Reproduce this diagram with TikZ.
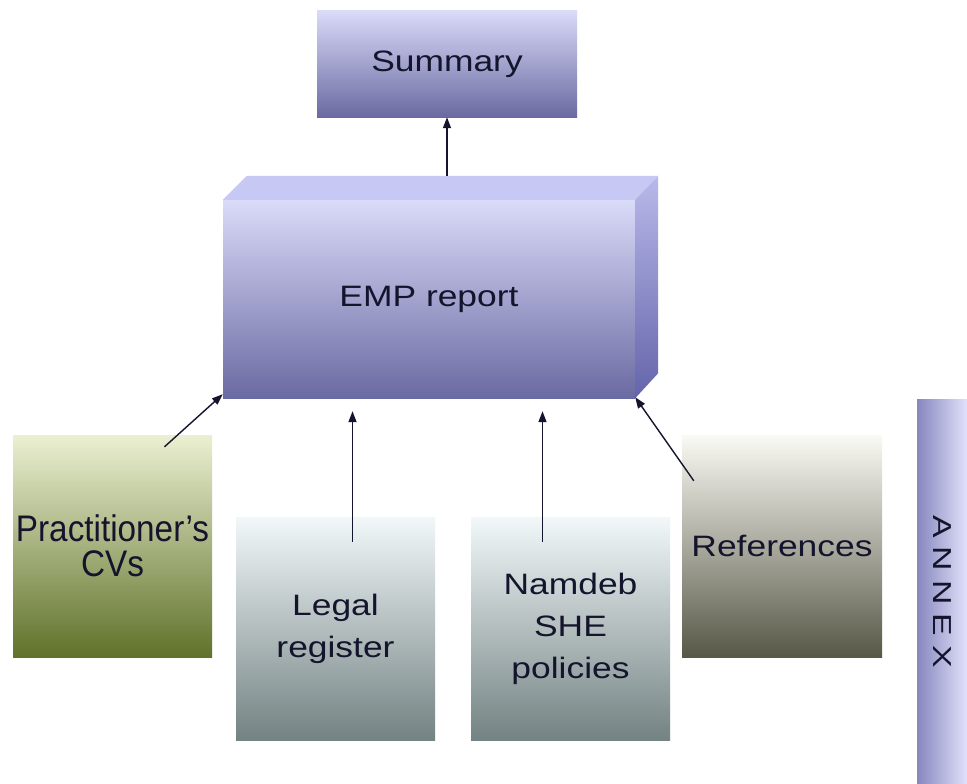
\documentclass[tikz,border=0pt]{standalone}
\usepackage{fontspec}
\setmainfont{Liberation Sans}[FakeStretch=1.2]
\newfontfamily\tallfont{Liberation Sans}[FakeStretch=0.9]
\newfontfamily\annexfont{Liberation Sans}[FakeStretch=1.3]
\usepackage{tikz}
\usetikzlibrary{positioning,arrows.meta,calc}
\usepackage{xcolor}
\definecolor{textdark}{HTML}{14142D}
\definecolor{lavtop}{HTML}{DADAF9}
\definecolor{lavbot}{HTML}{6A6AA2}
\definecolor{lavface}{HTML}{C8C8F4}
\definecolor{lavside}{HTML}{B9B9EA}
\definecolor{lavdeep}{HTML}{6464AA}
\definecolor{olivetop}{HTML}{EBF0D2}
\definecolor{olivebot}{HTML}{60722A}
\definecolor{slatetop}{HTML}{F2F8FA}
\definecolor{slatebot}{HTML}{738282}
\definecolor{stonetop}{HTML}{FAFAF4}
\definecolor{stonebot}{HTML}{585848}
\definecolor{annexleft}{HTML}{8787BE}
\definecolor{annexright}{HTML}{E1E1FA}

\begin{document}
\begin{tikzpicture}[x=1pt, y=-1pt,
    block/.style={inner sep=0pt, align=center, text=textdark, font=\fontsize{29.5}{42}\selectfont},
    arrow/.style={-{Triangle[length=11pt,width=8pt]}, line width=1.4pt, draw=textdark},
]
\useasboundingbox[fill=white] (0,0) rectangle (967,784);

% Top: summary
\node[block, top color=lavtop, bottom color=lavbot, minimum width=260, minimum height=106] (summary) at (447,64) {Summary};

% Middle: EMP report block (front face + top + side)
\node[block, top color=lavtop, bottom color=lavbot, minimum width=412, minimum height=198] (emp) at (429,299) {EMP report};
\fill[lavface] (emp.north west) -- ([shift={(24,-24)}]emp.north west) -- ([shift={(23,-24)}]emp.north east) -- (emp.north east) -- cycle;
\shade[top color=lavside, bottom color=lavdeep] (emp.north east) -- ([shift={(23,-24)}]emp.north east) -- ([shift={(23,-25)}]emp.south east) -- (emp.south east) -- cycle;
\coordinate (empback) at ([shift={(24,-24)}]emp.north west);

% Bottom row: inputs
\node[block, top color=olivetop, bottom color=olivebot, minimum width=199, minimum height=222,
      font=\tallfont\fontsize{37}{35}\selectfont] (cvs) at (112.5,546) {Practitioner’s\\CVs};
\node[block, top color=slatetop, bottom color=slatebot, minimum width=199, minimum height=223] (legal) at (335.5,628.5) {Legal\\register};
\node[block, top color=slatetop, bottom color=slatebot, minimum width=199, minimum height=223] (policies) at (570.5,628.5) {Namdeb\\SHE\\policies};
\node[block, top color=stonetop, bottom color=stonebot, minimum width=200, minimum height=222] (refs) at (782,546) {References};

% Annex bar
\node[block, left color=annexleft, right color=annexright, minimum width=50, minimum height=385] (annex) at (942,591.5)
    {\rotatebox{-90}{\annexfont\fontsize{26}{26}\selectfont A\hspace{9pt}N\hspace{9pt}N\hspace{9pt}E\hspace{9pt}X}};

% Arrows
\draw[arrow] (summary.south |- empback) -- (summary.south);
\draw[arrow] ([shift={(52,12)}]cvs.north) -- ([yshift=4pt]emp.south west);
\draw[arrow] ([shift={(17,25)}]legal.north) -- ([shift={(17,13)}]legal.north |- emp.south);
\draw[arrow] ([shift={(-28,25)}]policies.north) -- ([shift={(-28,13)}]policies.north |- emp.south);
\draw[arrow] ([shift={(12,46)}]refs.north west) -- ([yshift=1pt]emp.south east);

\end{tikzpicture}
\end{document}
